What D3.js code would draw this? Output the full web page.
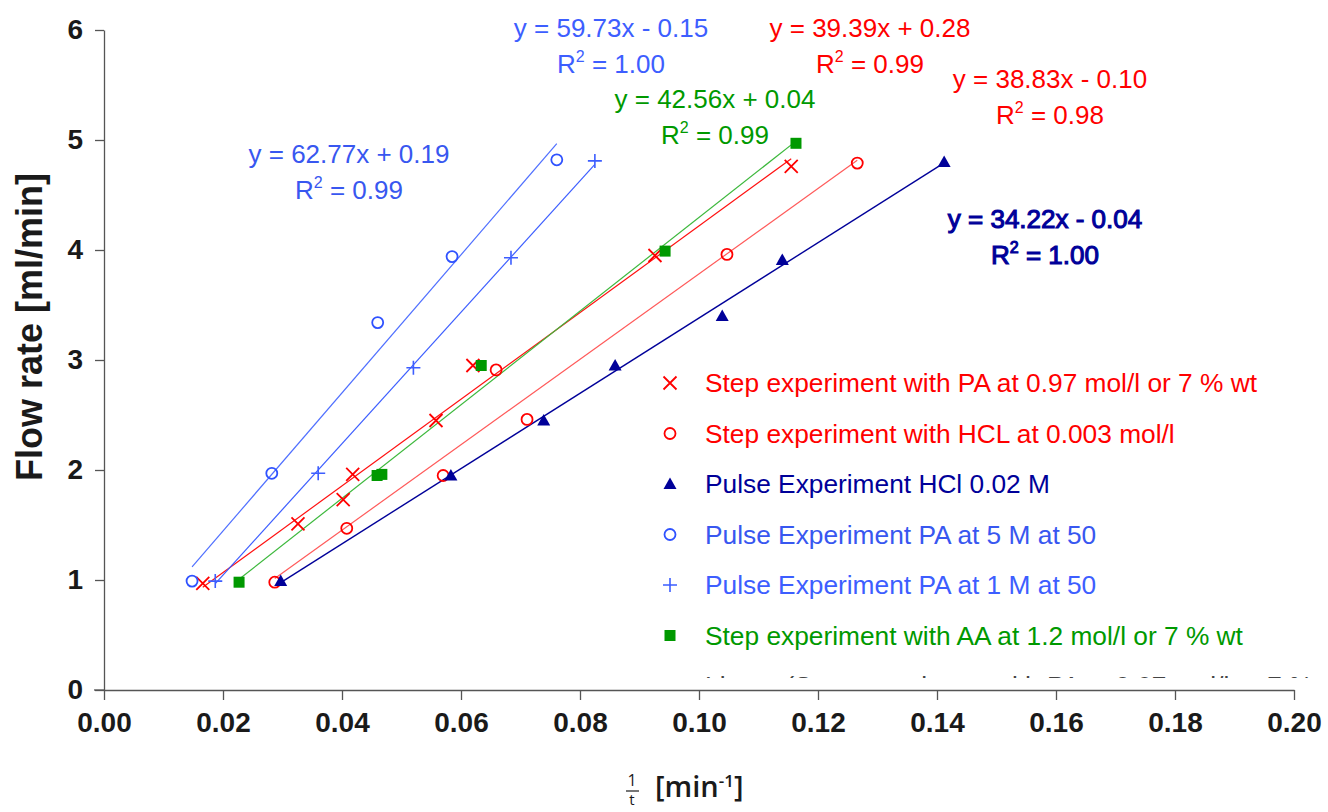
<!DOCTYPE html>
<html>
<head>
<meta charset="utf-8">
<script src="https://cdn.jsdelivr.net/npm/d3@7"></script>
<style>
  body { margin: 0; background: #fff; }
  svg { display: block; }
</style>
</head>
<body>
<div id="wrapper"></div>
<script>
// Data
const xTicks = [0, 0.02, 0.04, 0.06, 0.08, 0.10, 0.12, 0.14, 0.16, 0.18, 0.20]
const yTicks = [0, 1, 2, 3, 4, 5, 6]

const seriesNames = [
    "Step experiment with PA at 0.97 mol/l or 7 % wt",
    "Step experiment with HCL at 0.003 mol/l",
    "Pulse Experiment HCl 0.02 M",
    "Pulse Experiment PA at 5 M at 50",
    "Pulse Experiment PA at 1 M at 50",
    "Step experiment with AA at 1.2 mol/l or 7 % wt",
]

const stepPAx = [0.0166, 0.0326, 0.0402, 0.0418, 0.0558, 0.0620, 0.0926, 0.1155]
const stepPAy = [0.97, 1.51, 1.73, 1.96, 2.45, 2.95, 3.95, 4.76]

const stepHCLx = [0.0287, 0.0408, 0.0570, 0.0659, 0.0711, 0.1047, 0.1266]
const stepHCLy = [0.98, 1.47, 1.95, 2.91, 2.46, 3.96, 4.79]

const pulseHClx = [0.0297, 0.0583, 0.0739, 0.0859, 0.1039, 0.1140, 0.1412]
const pulseHCly = [0.99, 1.95, 2.45, 2.95, 3.40, 3.91, 4.80]

const pulsePA5x = [0.0148, 0.0282, 0.0460, 0.0585, 0.0761]
const pulsePA5y = [0.99, 1.97, 3.34, 3.94, 4.82]

const pulsePA1x = [0.0187, 0.0360, 0.0520, 0.0684, 0.0825]
const pulsePA1y = [0.99, 1.97, 2.93, 3.93, 4.81]

const stepAAx = [0.0227, 0.0459, 0.0467, 0.0634, 0.0943, 0.1163]
const stepAAy = [0.98, 1.95, 1.96, 2.95, 3.99, 4.97]

// linear fits as printed on the chart, in seriesNames order
const slopes = [39.39, 38.83, 34.22, 62.77, 59.73, 42.56]
const intercepts = [0.28, -0.10, -0.04, 0.19, -0.15, 0.04]
const r2Values = ["0.99", "0.98", "1.00", "0.99", "1.00", "0.99"]

const xsAll = [stepPAx, stepHCLx, pulseHClx, pulsePA5x, pulsePA1x, stepAAx]
const ysAll = [stepPAy, stepHCLy, pulseHCly, pulsePA5y, pulsePA1y, stepAAy]

// Styles
const markerColors = ["#ff0000", "#ff0000", "#000099", "#2f52ff", "#3d5eff", "#009900"]
const lineColors = ["#ff1010", "#ff5a5a", "#000099", "#4f6fff", "#3d5eff", "#3cb83c"]
const textColors = ["#ff0000", "#ff0000", "#000099", "#3857f0", "#3d5eff", "#009900"]
const markerTypes = ["x", "circle", "triangle", "circle", "plus", "square"]

// label anchors in pixels (centre x, baseline of first line), bold flag
const eqLayout = [
    { x: 870, y: 37, bold: false },
    { x: 1050, y: 88, bold: false },
    { x: 1045, y: 228, bold: true },
    { x: 349, y: 163, bold: false },
    { x: 611, y: 37, bold: false },
    { x: 715, y: 108, bold: false },
]

const dimensions = {
    width: 1328,
    height: 812,
    margin: { top: 30, right: 34, bottom: 122, left: 104 },
}
dimensions.boundedWidth = dimensions.width - dimensions.margin.left - dimensions.margin.right
dimensions.boundedHeight = dimensions.height - dimensions.margin.top - dimensions.margin.bottom

const wrapper = d3.select("#wrapper")
    .append("svg")
        .attr("width", dimensions.width)
        .attr("height", dimensions.height)
        .style("font-family", "'Liberation Sans', Arial, sans-serif")

const bounds = wrapper.append("g")
    .attr("transform", `translate(${dimensions.margin.left},${dimensions.margin.top})`)

const xScale = d3.scaleLinear().domain([0, 0.2]).range([0, dimensions.boundedWidth])
const yScale = d3.scaleLinear().domain([0, 6]).range([dimensions.boundedHeight, 0])

// Axes
const axisColor = "#555"
const yAxis = bounds.append("g")
    .call(d3.axisLeft(yScale).tickValues(yTicks).tickSize(9).tickSizeOuter(0).tickPadding(12).tickFormat(d3.format("d")))
const xAxis = bounds.append("g")
    .attr("transform", `translate(0,${dimensions.boundedHeight})`)
    .call(d3.axisBottom(xScale).tickValues(xTicks).tickSize(10).tickSizeOuter(0).tickPadding(12).tickFormat(d3.format(".2f")))

for (const ax of [xAxis, yAxis]) {
    ax.select(".domain").attr("stroke", axisColor).attr("stroke-width", 1.3)
    ax.selectAll(".tick line").attr("stroke", axisColor).attr("stroke-width", 1.3)
    ax.selectAll(".tick text")
        .attr("fill", "#1a1a1a")
        .style("font-family", "'Liberation Sans', Arial, sans-serif")
        .style("font-size", "28px")
        .style("font-weight", "bold")
}
// x axis line extends left under the y tick at 0
xAxis.append("line")
    .attr("x1", -10).attr("x2", 0)
    .attr("stroke", axisColor).attr("stroke-width", 1.3)

// Trend lines
const lineGenerator = d3.line()
    .x(d => xScale(d[0]))
    .y(d => yScale(d[1]))

xsAll.forEach((xs, i) => {
    const [x0, x1] = d3.extent(xs)
    const pts = [x0, x1].map(x => [x, slopes[i] * x + intercepts[i]])
    bounds.append("path")
        .attr("d", lineGenerator(pts))
        .attr("fill", "none")
        .attr("stroke", lineColors[i])
        .attr("stroke-width", i === 2 ? 1.4 : 1.2)
})

// Markers
function drawMarker(g, type, color) {
    if (type === "x") {
        g.append("path").attr("d", "M-6.5,-6.5L6.5,6.5M-6.5,6.5L6.5,-6.5")
            .attr("stroke", color).attr("stroke-width", 1.8).attr("fill", "none")
    } else if (type === "plus") {
        g.append("path").attr("d", "M-7,0H7M0,-7V7")
            .attr("stroke", color).attr("stroke-width", 1.6).attr("fill", "none")
    } else if (type === "circle") {
        g.append("circle").attr("r", 5.5)
            .attr("stroke", color).attr("stroke-width", 1.8).attr("fill", "none")
    } else if (type === "triangle") {
        g.append("path").attr("d", "M0,-6.5L6.5,5L-6.5,5Z").attr("fill", color)
    } else if (type === "square") {
        g.append("rect").attr("x", -5.5).attr("y", -5.5).attr("width", 11).attr("height", 11).attr("fill", color)
    }
}

xsAll.forEach((xs, i) => {
    xs.forEach((x, j) => {
        const g = bounds.append("g")
            .attr("transform", `translate(${xScale(x)},${yScale(ysAll[i][j])})`)
        drawMarker(g, markerTypes[i], markerColors[i])
    })
})

// Equation labels
eqLayout.forEach((l, i) => {
    const sign = intercepts[i] < 0 ? "-" : "+"
    const eq = `y = ${slopes[i].toFixed(2)}x ${sign} ${Math.abs(intercepts[i]).toFixed(2)}`
    // bold label in the source keeps regular advance widths, so thicken with a stroke
    const stroke = l.bold ? textColors[i] : "none"
    wrapper.append("text")
        .attr("x", l.x).attr("y", l.y)
        .attr("text-anchor", "middle")
        .attr("fill", textColors[i])
        .attr("stroke", stroke).attr("stroke-width", 1.1)
        .style("font-size", "26px")
        .text(eq)
    const r = wrapper.append("text")
        .attr("x", l.x).attr("y", l.y + 36)
        .attr("text-anchor", "middle")
        .attr("fill", textColors[i])
        .attr("stroke", stroke).attr("stroke-width", 1.1)
        .style("font-size", "26px")
    r.append("tspan").text("R")
    r.append("tspan").attr("dy", -11).style("font-size", "16px").text("2")
    r.append("tspan").attr("dy", 11).text(` = ${r2Values[i]}`)
})

// Legend
const legend = wrapper.append("g").attr("transform", "translate(670,383)")
const legendClip = wrapper.append("clipPath").attr("id", "legend-clip")
legendClip.append("rect").attr("x", -20).attr("y", -40).attr("width", 700).attr("height", 335)
legend.attr("clip-path", "url(#legend-clip)")

seriesNames.forEach((name, i) => {
    const row = legend.append("g").attr("transform", `translate(0,${i * 50.5})`)
    drawMarker(row.append("g"), markerTypes[i], markerColors[i])
    row.append("text")
        .attr("x", 35).attr("y", 9)
        .attr("fill", textColors[i])
        .style("font-size", "26.3px")
        .text(name)
})
// partly hidden trend line entry (legend box cuts it in the source)
const lastRow = legend.append("g").attr("transform", `translate(0,${6 * 50.5})`)
lastRow.append("text")
    .attr("x", 35).attr("y", 9)
    .attr("fill", "#444")
    .style("font-size", "26.3px")
    .text("Linear (Step experiment with PA at 0.97 mol/l or 7 %")

// Axis titles
wrapper.append("text")
    .attr("transform", "translate(42,327) rotate(-90)")
    .attr("text-anchor", "middle")
    .attr("fill", "#1a1a1a")
    .style("font-size", "36px")
    .style("font-weight", "bold")
    .text("Flow rate [ml/min]")

const xt = wrapper.append("g")
    .attr("fill", "#1a1a1a")
    .style("font-family", "'Open Sans', Lato, sans-serif")
xt.append("text").attr("x", 632).attr("y", 786).attr("text-anchor", "middle")
    .style("font-size", "16px").text("1")
xt.append("line").attr("x1", 626).attr("x2", 639).attr("y1", 791).attr("y2", 791)
    .attr("stroke", "#1a1a1a").attr("stroke-width", 1.2)
xt.append("text").attr("x", 632).attr("y", 805).attr("text-anchor", "middle")
    .style("font-size", "15px").text("t")
const unit = xt.append("text").attr("x", 655).attr("y", 797)
    .style("font-size", "29px").style("font-weight", "600")
unit.append("tspan").text("[min")
unit.append("tspan").attr("dy", -10).style("font-size", "17px").text("-1")
unit.append("tspan").attr("dy", 10).text("]")
</script>
</body>
</html>
